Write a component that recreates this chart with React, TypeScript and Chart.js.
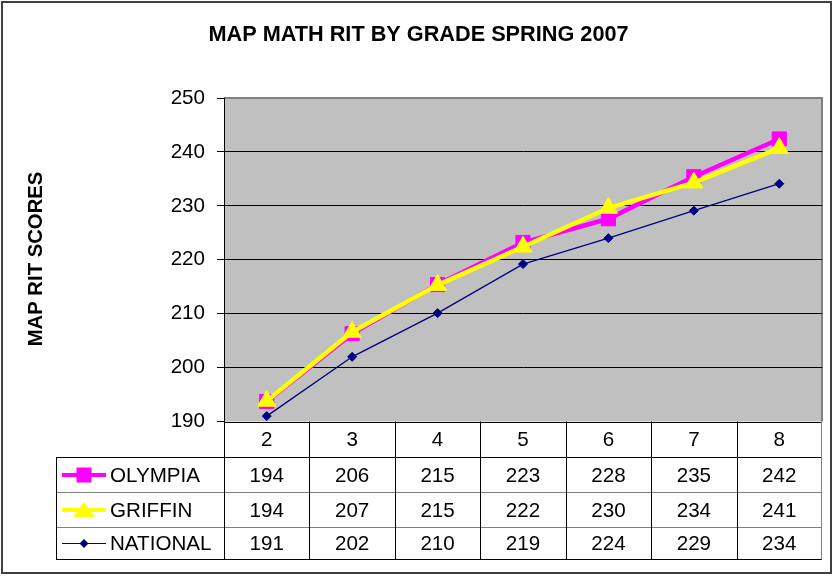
import React, { useEffect, useRef } from "react";
import { Chart, registerables } from "chart.js";

Chart.register(...registerables);

const TITLE = "MAP MATH RIT BY GRADE SPRING 2007";
const Y_TITLE = "MAP RIT SCORES";
const grades = ["2", "3", "4", "5", "6", "7", "8"];
const seriesNames = ["OLYMPIA", "GRIFFIN", "NATIONAL"];
const olympia = [193.7, 206.3, 215.4, 223.2, 227.6, 235.4, 242.4];
const griffin = [193.8, 206.6, 215.3, 222.4, 229.6, 234.3, 240.7];
const national = [191.0, 202.0, 210.1, 219.2, 224.0, 229.1, 234.1];
const yMin = 190;
const yMax = 250;
const yStep = 10;

const FONT = '"Liberation Sans", Arial, sans-serif';
const colors = ["#FF00FF", "#FFFF00", "#000080"];

function drawMarker(ctx: CanvasRenderingContext2D, kind: number, x: number, y: number) {
  ctx.save();
  ctx.fillStyle = colors[kind];
  ctx.strokeStyle = colors[kind];
  ctx.beginPath();
  if (kind === 0) {
    ctx.rect(x - 7.5, y - 7.5, 15, 15);
  } else if (kind === 1) {
    ctx.moveTo(x, y - 8);
    ctx.lineTo(x + 11, y + 7);
    ctx.lineTo(x - 11, y + 7);
    ctx.closePath();
  } else {
    ctx.moveTo(x, y - 4.5);
    ctx.lineTo(x + 4.5, y);
    ctx.lineTo(x, y + 4.5);
    ctx.lineTo(x - 4.5, y);
    ctx.closePath();
  }
  ctx.fill();
  ctx.restore();
}

const decorPlugin = {
  id: "decor",
  beforeDraw(chart: any) {
    const { ctx, chartArea } = chart;
    const { left, top, right, bottom } = chartArea;
    ctx.save();
    ctx.fillStyle = "#FFFFFF";
    ctx.fillRect(0, 0, chart.width, chart.height);
    ctx.fillStyle = "#C0C0C0";
    ctx.fillRect(left, top, right - left, bottom - top);
    ctx.strokeStyle = "#808080";
    ctx.lineWidth = 2;
    ctx.beginPath();
    ctx.moveTo(left, top);
    ctx.lineTo(right, top);
    ctx.lineTo(right, bottom);
    ctx.stroke();
    ctx.restore();
  },
  afterDraw(chart: any) {
    const { ctx, chartArea } = chart;
    const { left, right, bottom } = chartArea;
    const xs = chart.scales.x;
    const colW = (right - left) / grades.length;
    ctx.save();

    // outer border
    ctx.strokeStyle = "#404040";
    ctx.lineWidth = 2;
    ctx.strokeRect(2, 2, 829, 571);

    // title
    ctx.fillStyle = "#000";
    ctx.font = `bold 21.7px ${FONT}`;
    ctx.textAlign = "center";
    ctx.textBaseline = "middle";
    ctx.fillText(TITLE, 418.5, 35);

    // y title
    ctx.save();
    ctx.translate(36, 259);
    ctx.rotate(-Math.PI / 2);
    ctx.font = `bold 20.3px ${FONT}`;
    ctx.fillText(Y_TITLE, 0, 0);
    ctx.restore();

    // table
    const rowLines = [bottom, 457.5, 492.5, 527.5, 559.5];
    const legendLeft = 56;
    ctx.lineWidth = 1;
    ctx.strokeStyle = "#000";
    ctx.beginPath();
    ctx.moveTo(left, Math.round(bottom) + 0.5);
    ctx.lineTo(right, Math.round(bottom) + 0.5);
    ctx.moveTo(legendLeft, rowLines[1]);
    ctx.lineTo(right, rowLines[1]);
    ctx.moveTo(legendLeft, rowLines[4]);
    ctx.lineTo(right, rowLines[4]);
    ctx.stroke();
    ctx.strokeStyle = "#808080";
    ctx.beginPath();
    ctx.moveTo(legendLeft, rowLines[2]);
    ctx.lineTo(right, rowLines[2]);
    ctx.moveTo(legendLeft, rowLines[3]);
    ctx.lineTo(right, rowLines[3]);
    ctx.stroke();
    ctx.strokeStyle = "#000";
    ctx.beginPath();
    ctx.moveTo(legendLeft + 0.5, rowLines[1]);
    ctx.lineTo(legendLeft + 0.5, rowLines[4]);
    for (let i = 0; i < grades.length; i++) {
      const x = Math.round(left + i * colW) + 0.5;
      ctx.moveTo(x, bottom);
      ctx.lineTo(x, rowLines[4]);
    }
    ctx.stroke();
    ctx.strokeStyle = "#808080";
    ctx.beginPath();
    ctx.moveTo(Math.round(right) - 0.5, bottom);
    ctx.lineTo(Math.round(right) - 0.5, rowLines[4]);
    ctx.stroke();

    ctx.fillStyle = "#000";
    ctx.font = `20.6px ${FONT}`;
    ctx.textAlign = "center";
    ctx.textBaseline = "middle";
    grades.forEach((g, i) => {
      ctx.fillText(g, xs.getPixelForValue(i), (rowLines[0] + rowLines[1]) / 2 + 1);
    });

    const allData = [olympia, griffin, national];
    allData.forEach((arr, r) => {
      const cy = (rowLines[r + 1] + rowLines[r + 2]) / 2 + 1;
      ctx.textAlign = "center";
      arr.forEach((v, i) => {
        ctx.fillText(String(Math.round(v)), xs.getPixelForValue(i), cy);
      });
      ctx.save();
      ctx.strokeStyle = colors[r];
      ctx.lineWidth = r === 2 ? 1.2 : 4;
      ctx.beginPath();
      ctx.moveTo(62, cy - 1);
      ctx.lineTo(106, cy - 1);
      ctx.stroke();
      ctx.restore();
      drawMarker(ctx, r, 84, cy - 1);
      ctx.textAlign = "left";
      ctx.fillText(seriesNames[r], 110, cy);
    });
    ctx.restore();
  },
};

export default function App() {
  const canvasRef = useRef<HTMLCanvasElement | null>(null);
  useEffect(() => {
    document.body.style.margin = "0";
    const canvas = canvasRef.current;
    if (!canvas) return;
    const chart = new Chart(canvas, {
      type: "line",
      data: {
        labels: grades,
        datasets: [
          {
            label: seriesNames[0],
            data: olympia,
            borderColor: colors[0],
            backgroundColor: colors[0],
            borderWidth: 4.5,
            pointStyle: "rect",
            pointRadius: 10,
            pointBorderWidth: 1,
            pointBackgroundColor: colors[0],
            pointBorderColor: colors[0],
            order: 3,
          },
          {
            label: seriesNames[1],
            data: griffin,
            borderColor: colors[1],
            backgroundColor: colors[1],
            borderWidth: 4.5,
            pointStyle: "triangle",
            pointRadius: 10.5,
            pointBorderWidth: 1,
            pointBackgroundColor: colors[1],
            pointBorderColor: colors[1],
            order: 2,
          },
          {
            label: seriesNames[2],
            data: national,
            borderColor: colors[2],
            backgroundColor: colors[2],
            borderWidth: 1.3,
            pointStyle: "rectRot",
            pointRadius: 4.5,
            pointBorderWidth: 1,
            pointBackgroundColor: colors[2],
            pointBorderColor: colors[2],
            order: 1,
          },
        ],
      },
      options: {
        responsive: false,
        animation: false,
        devicePixelRatio: 1,
        layout: { padding: { left: 0, top: 98, right: 12, bottom: 154.5 } },
        plugins: {
          legend: { display: false },
          title: { display: false },
          tooltip: { enabled: false },
        },
        elements: { line: { tension: 0 } },
        scales: {
          x: {
            type: "category",
            display: false,
            offset: true,
          },
          y: {
            min: yMin,
            max: yMax,
            afterFit: (scale: any) => {
              scale.width = 224;
            },
            ticks: {
              stepSize: yStep,
              color: "#000",
              font: { family: FONT, size: 20.6 },
              padding: 12,
            },
            grid: {
              color: (c: any) =>
                c.tick && (c.tick.value === yMax || c.tick.value === yMin) ? "rgba(0,0,0,0)" : "#000",
              tickColor: "#000",
              tickLength: 7,
              lineWidth: 1,
            },
            border: { display: true, color: "#000", width: 1 },
          },
        },
      },
      plugins: [decorPlugin],
    });
    return () => chart.destroy();
  }, []);
  return (
    <div style={{ position: "absolute", left: 0, top: 0, width: 834, height: 576 }}>
      <canvas ref={canvasRef} width={834} height={576} style={{ display: "block" }} />
    </div>
  );
}
